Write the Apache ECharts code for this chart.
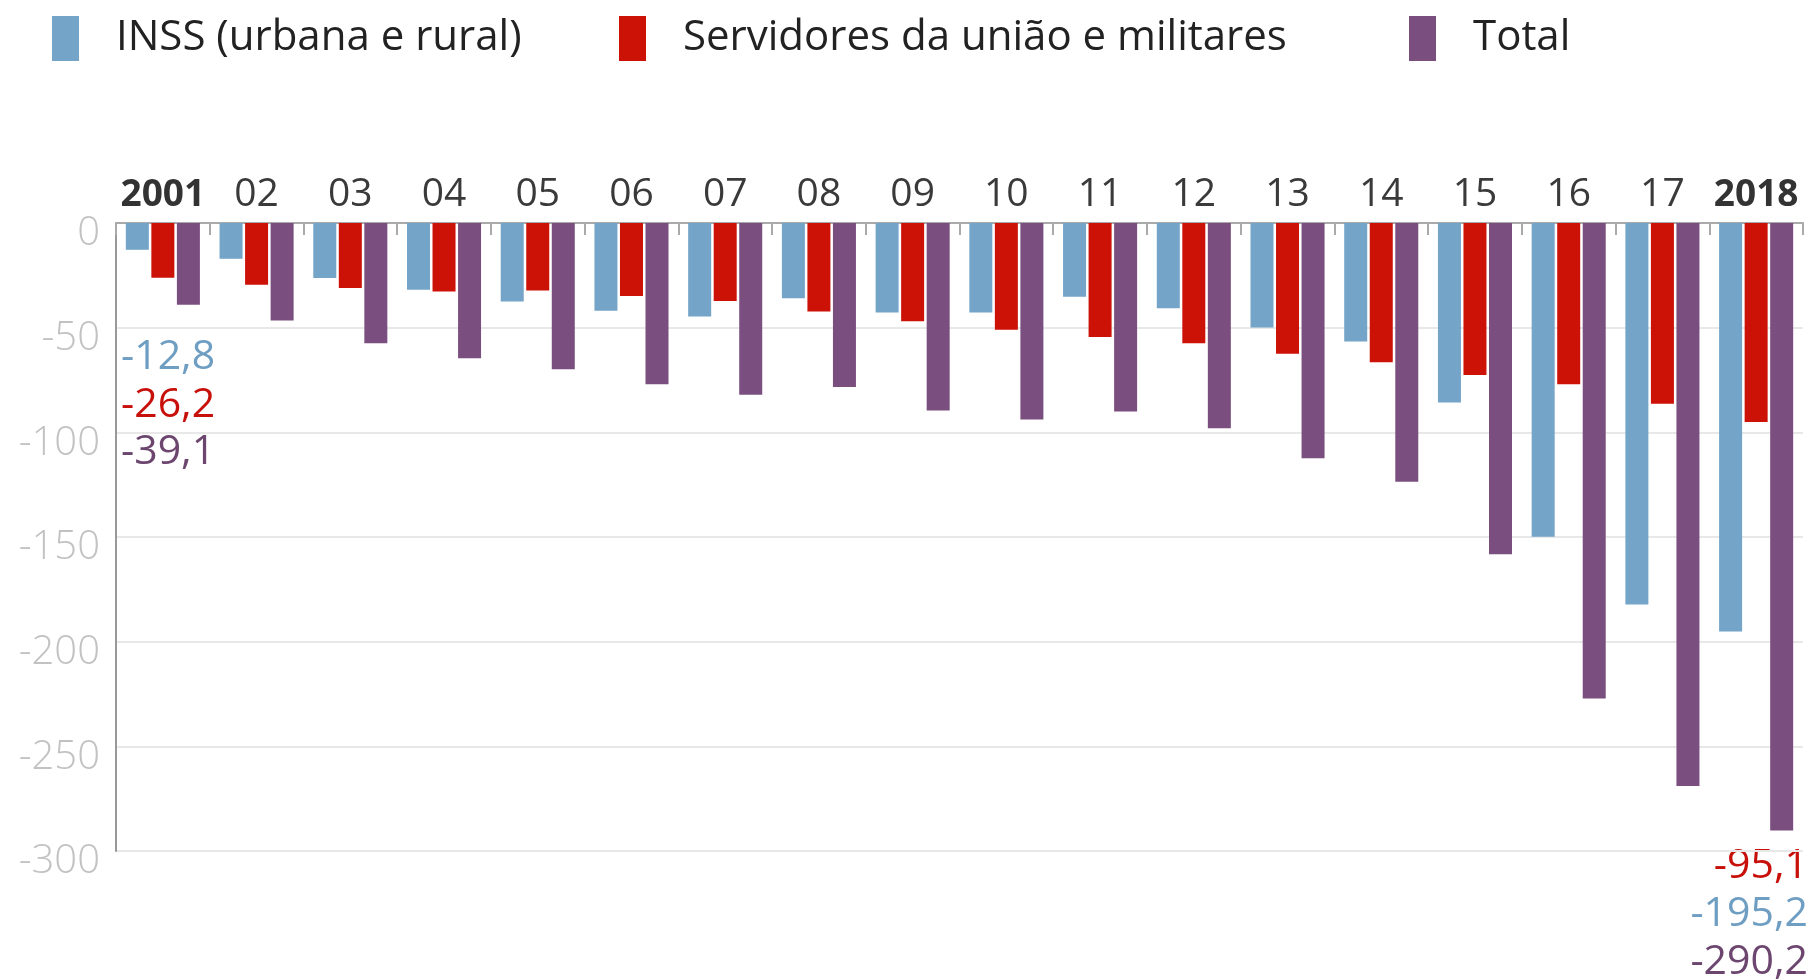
<!DOCTYPE html>
<html><head><meta charset="utf-8">
<script src="https://cdn.jsdelivr.net/npm/echarts@6/dist/echarts.min.js"></script>
<style>html,body{margin:0;padding:0;background:#fff}#c{width:1815px;height:980px}</style>
</head><body><div id="c"></div>
<script>
const years = ['2001','02','03','04','05','06','07','08','09','10','11','12','13','14','15','16','17','2018'];
const inss = [-12.8,-17.1,-26.3,-31.9,-37.5,-41.9,-44.7,-36.0,-42.7,-42.7,-35.2,-40.7,-49.9,-56.6,-85.8,-149.9,-182.3,-195.2];
const servidores = [-26.2,-29.5,-31.1,-32.7,-32.2,-34.9,-37.3,-42.3,-46.9,-51.0,-54.4,-57.4,-62.5,-66.5,-72.6,-77.0,-86.4,-95.1];
const total = [-39.1,-46.6,-57.4,-64.6,-69.9,-77.0,-82.1,-78.3,-89.6,-93.9,-90.0,-98.1,-112.4,-123.6,-158.3,-227.2,-268.9,-290.2];
const names = ['INSS (urbana e rural)','Servidores da união e militares','Total'];
const colors = ['#74a4c8','#cc1107','#7a4f7f'];
const labelColors = ['#6f9ec3','#c8100a','#6c466f'];
const FONT = '"Open Sans", "Noto Sans", sans-serif';
const fmt = v => v.toFixed(1).replace('.', ',');

const chart = echarts.init(document.getElementById('c'));
function legend(i, left) {
  return {
    left: left, top: 16, padding: 0, orient: 'horizontal',
    icon: 'rect', itemWidth: 27, itemHeight: 45,
    data: [names[i]],
    selectedMode: false,
    textStyle: { fontFamily: FONT, fontSize: 42, color: '#222', padding: [0,0,0,32] }
  };
}
const last = years.length - 1;
const annotations = [];
[[inss,0],[servidores,1],[total,2]].forEach(([arr,i],k)=>{
  annotations.push({ type:'text', left:121, top: 361 + k*47.5 - 24,
    style:{ text: fmt(arr[0]), fontFamily: FONT, fontSize: 41, fill: labelColors[i] } });
});
[[servidores,1],[inss,0],[total,2]].forEach(([arr,i],k)=>{
  annotations.push({ type:'text', right: 7, top: 870 + k*48 - 24,
    style:{ text: fmt(arr[last]), fontFamily: FONT, fontSize: 41, fill: labelColors[i], textAlign:'right' } });
});

chart.setOption({
  animation: false,
  backgroundColor: '#fff',
  legend: [legend(0, 52), legend(1, 619), legend(2, 1409)],
  grid: { left: 116, right: 12, top: 223, bottom: 129, containLabel: false },
  xAxis: {
    type: 'category', position: 'top', data: years,
    axisLine: { show: true, lineStyle: { color: '#aaa', width: 2 } },
    axisTick: { show: true, inside: true, length: 12, lineStyle: { color: '#aaa', width: 2 } },
    axisLabel: {
      interval: 0, margin: 9, fontFamily: FONT, fontSize: 39, color: '#3a3a3a',
      formatter: (v, idx) => (idx === 0 || idx === last) ? '{b|' + v + '}' : v,
      rich: { b: { fontFamily: FONT, fontSize: 37, fontWeight: 'bold', color: '#333' } }
    }
  },
  yAxis: {
    type: 'value', min: -300, max: 0, interval: 50,
    axisLine: { show: true, lineStyle: { color: '#999', width: 2 } },
    axisTick: { show: false },
    axisLabel: { margin: 16, fontFamily: FONT, fontSize: 40, fontWeight: 300, color: '#c2c2c2', verticalAlign: 'top', lineHeight: 22 },
    splitLine: { show: true, lineStyle: { color: '#e8e8e8', width: 2 } }
  },
  series: [
    { name: names[0], type: 'bar', data: inss, barWidth: 23, barGap: '11%', itemStyle: { color: colors[0] } },
    { name: names[1], type: 'bar', data: servidores, barWidth: 23, barGap: '11%', itemStyle: { color: colors[1] } },
    { name: names[2], type: 'bar', data: total, barWidth: 23, barGap: '11%', itemStyle: { color: colors[2] } }
  ],
  graphic: annotations
});
</script></body></html>
